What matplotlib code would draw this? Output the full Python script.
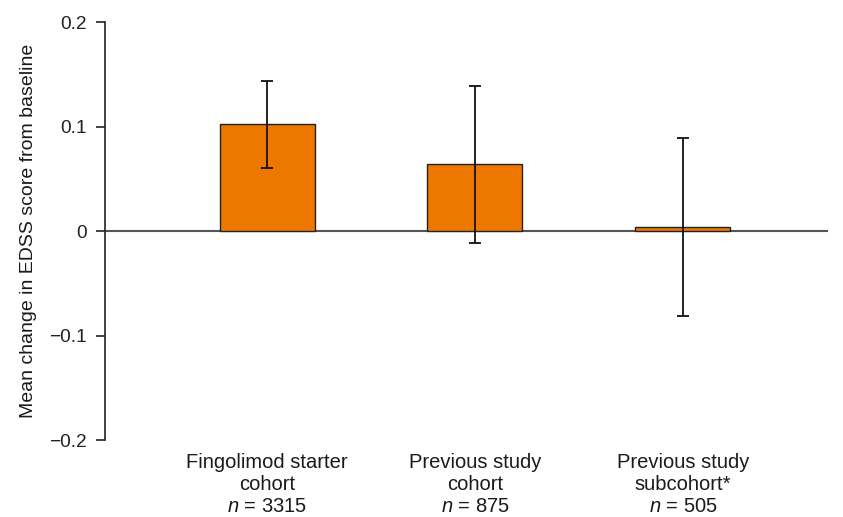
import matplotlib
matplotlib.use("Agg")
import matplotlib.pyplot as plt
import numpy as np

plt.rcParams['font.family'] = ['Liberation Sans', 'DejaVu Sans']
plt.rcParams['mathtext.fontset'] = 'custom'
plt.rcParams['mathtext.rm'] = 'Liberation Sans'
plt.rcParams['mathtext.it'] = 'Liberation Sans:italic'

# data
groups = ["Fingolimod starter\ncohort\n$n$ = 3315",
          "Previous study\ncohort\n$n$ = 875",
          "Previous study\nsubcohort*\n$n$ = 505"]
means = [0.102, 0.064, 0.004]
errors = [0.042, 0.075, 0.085]
yticks = [0.2, 0.1, 0, -0.1, -0.2]
ytick_labels = ["0.2", "0.1", "0", "\u22120.1", "\u22120.2"]

fig = plt.figure(figsize=(8.43, 5.17), dpi=100)
ax = fig.add_axes([0.1246, 0.1489, 0.8574, 0.8085])

x = np.arange(len(groups))
ax.bar(x, means, width=0.457, color='#EE7700', edgecolor='#222222', linewidth=1.0, zorder=2)
ax.errorbar(x, means, yerr=errors, fmt='none', ecolor='#111111', elinewidth=1.3,
            capsize=4, capthick=1.3, zorder=3)
ax.axhline(0, color='#555555', linewidth=1.5, zorder=1)

ax.set_xlim(-0.779, 2.697)
ax.set_ylim(-0.2, 0.2)
ax.set_yticks(yticks)
ax.set_yticklabels(ytick_labels)
ax.set_xticks(x)
ax.set_xticklabels(groups, fontsize=14.5, linespacing=1.2)
ax.tick_params(axis='x', length=0, pad=9, colors='#1a1a1a')
ax.tick_params(axis='y', length=6.5, width=1.2, labelsize=13.8, pad=6.5, colors='#222222')
ax.set_ylabel("Mean change in EDSS score from baseline", fontsize=14, labelpad=9, color='#1a1a1a')

for s in ['top', 'right', 'bottom']:
    ax.spines[s].set_visible(False)
ax.spines['left'].set_linewidth(1.2)
ax.spines['left'].set_color('#222222')

fig.savefig("out.png", dpi=100)
